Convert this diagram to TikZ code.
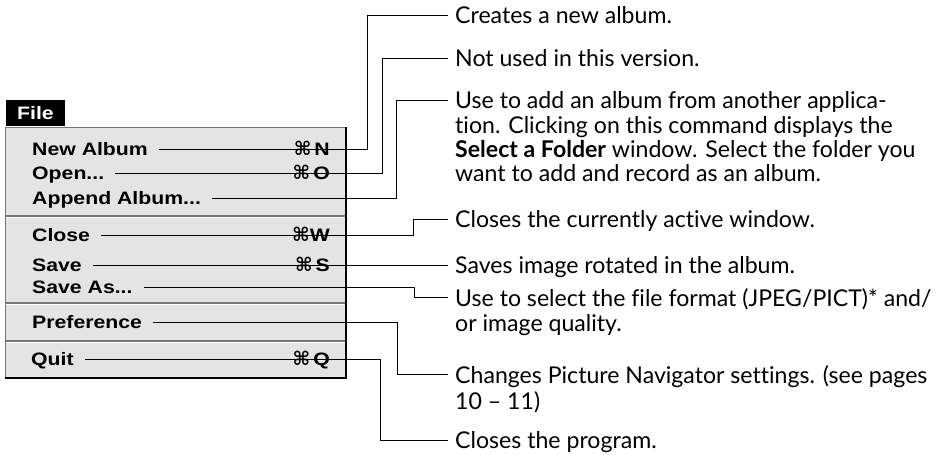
\documentclass[tikz,border=0pt]{standalone}
\usepackage{fontspec}
\setmainfont[Ligatures={TeX,NoCommon}]{Lato}
\newfontfamily\menufont[FakeStretch=1.18]{Liberation Sans}
\newfontfamily\keyfont{DejaVu Sans}
\definecolor{menugray}{HTML}{E4E4E4}
\definecolor{edgegray}{HTML}{777777}

\tikzset{
  item/.style={anchor=west, inner sep=0pt, text height=13pt, text depth=0pt,
    font=\menufont\fontsize{18}{20}\selectfont\bfseries},
  key/.style={item, anchor=east},
  desc/.style={anchor=north west, inner sep=0pt, align=left,
    font=\fontsize{23.1}{24}\selectfont},
  link/.style={line width=1pt}
}
\newcommand{\cmdkey}{{\keyfont\fontsize{19}{19}\selectfont ⌘}}

\begin{document}
\begin{tikzpicture}[x=1pt,y=-1pt]
\useasboundingbox (0,0) rectangle (946,455);

% menu
\fill[black] (6,100) rectangle (65,126);
\node[item, text=white] (tab) at (17,113) {File};
\fill[menugray] (5,127) rectangle (346,378);
\draw[edgegray, line width=1pt] (5,378) -- (5,127) -- (346,127);
\draw[black, line width=2.4pt] (346,127) -- (346,378) -- (5,378);
\foreach \y in {216,303,341} {
  \draw[edgegray, line width=1.2pt] (5.5,\y) -- (345,\y);
  \draw[white, line width=1pt] (5.5,\y+1.3) -- (345,\y+1.3);
}

\node[item] (inew) at (32,149) {New Album};
\node[item] (iopen) at (32,173) {Open...};
\node[item] (iappend) at (32,198) {Append Album...};
\node[item] (iclose) at (32,235) {Close};
\node[item] (isave) at (32,265) {Save};
\node[item] (isaveas) at (32,287) {Save As...};
\node[item] (ipref) at (32,322) {Preference};
\node[item] (iquit) at (31,359) {Quit};

\node[key] (knew) at (330,149) {\cmdkey\,N};
\node[key] (kopen) at (330,173) {\cmdkey\,O};
\node[key] (kclose) at (330,235) {\cmdkey W};
\node[key] (ksave) at (330,265) {\cmdkey\,S};
\node[key] (kquit) at (330,359) {\cmdkey\,Q};

% descriptions
\node[desc] (dnew) at (455,6.2) {\strut Creates a new album.};
\node[desc] (dopen) at (455,49.2) {\strut Not used in this version.};
\node[desc] (dappend) at (455,91.2) {\strut Use to add an album from another applica-\\
  tion. Clicking on this command displays the\\
  \textbf{Select a Folder} window. Select the folder you\\
  want to add and record as an album.};
\node[desc] (dclose) at (455,210.2) {\strut Closes the currently active window.};
\node[desc] (dsave) at (455,256.2) {\strut Saves image rotated in the album.};
\node[desc] (dsaveas) at (455,288.2) {\strut Use to select the file format (JPEG/PICT)* and/\\
  or image quality.};
\node[desc] (dpref) at (455,365.2) {\strut Changes Picture Navigator settings. (see pages\\
  10 -- 11)};
\node[desc] (dquit) at (455,431.2) {\strut Closes the program.};

% connectors
\coordinate (bnew) at (367,0);
\coordinate (bopen) at (382,0);
\coordinate (bappend) at (396,0);
\coordinate (bclose) at (413,0);
\coordinate (bsaveas) at (414,0);
\coordinate (bpref) at (397,0);
\coordinate (bquit) at (380,0);

\draw[link] ([xshift=11pt]inew.east) -- (inew.east -| bnew) |- ([xshift=-7pt,yshift=-8.8pt]dnew.north west);
\draw[link] ([xshift=11pt]iopen.east) -- (iopen.east -| bopen) |- ([xshift=-7pt,yshift=-8.8pt]dopen.north west);
\draw[link] ([xshift=11pt]iappend.east) -- (iappend.east -| bappend) |- ([xshift=-7pt,yshift=-8.8pt]dappend.north west);
\draw[link] ([xshift=11pt]iclose.east) -- (iclose.east -| bclose) |- ([xshift=-7pt,yshift=-8.8pt]dclose.north west);
\draw[link] ([xshift=11pt]isave.east) -- ([xshift=-7pt,yshift=-8.8pt]dsave.north west);
\draw[link] ([xshift=11pt]isaveas.east) -- (isaveas.east -| bsaveas) |- ([xshift=-7pt,yshift=-8.8pt]dsaveas.north west);
\draw[link] ([xshift=11pt]ipref.east) -- (ipref.east -| bpref) |- ([xshift=-7pt,yshift=-8.8pt]dpref.north west);
\draw[link] ([xshift=11pt]iquit.east) -- (iquit.east -| bquit) |- ([xshift=-7pt,yshift=-8.8pt]dquit.north west);
\end{tikzpicture}
\end{document}
